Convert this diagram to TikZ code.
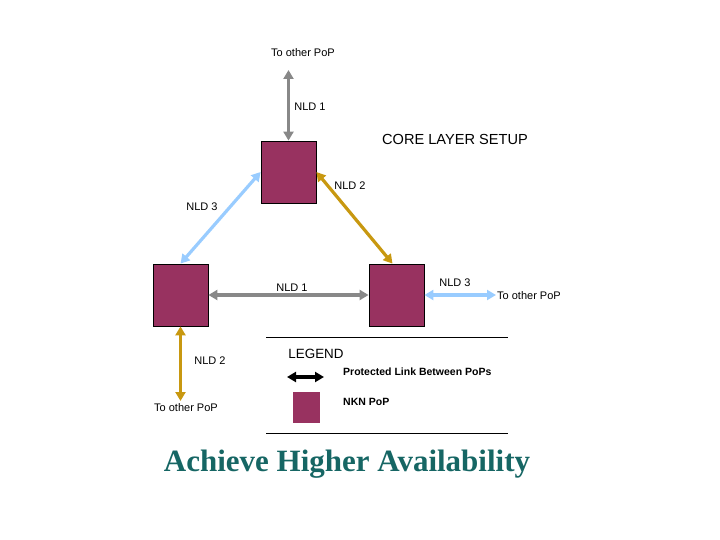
\documentclass[tikz,border=0pt]{standalone}
\usepackage{fontspec}
\setmainfont{Liberation Serif}
\setsansfont{Liberation Sans}
\usetikzlibrary{arrows.meta,positioning}
\definecolor{popfill}{RGB}{152,50,96}
\definecolor{linkgrey}{RGB}{136,136,136}
\definecolor{linkblue}{RGB}{153,204,255}
\definecolor{linkgold}{RGB}{200,152,16}
\definecolor{titleteal}{RGB}{22,102,100}
\tikzset{
  pop/.style={draw=black,fill=popfill,minimum width=55,minimum height=62,
              inner sep=0pt,line width=0.8pt},
  link/.style={{Triangle[length=9,width=10]}-{Triangle[length=9,width=10]},
               line width=3.2pt},
  lbl/.style={font=\sffamily\fontsize{11}{13}\selectfont,inner sep=1pt},
  leglbl/.style={font=\sffamily\bfseries\fontsize{10.5}{12}\selectfont,
                 inner sep=1pt,anchor=west},
  rulel/.style={draw=black,line width=0.9pt},
}
\begin{document}
\begin{tikzpicture}[x=1pt,y=-1pt]
  \useasboundingbox (0,0) rectangle (720,540);
  % the three PoPs
  \node[pop] (popa) at (288.5,172) {};
  \node[pop] (popb) at (180.5,295) {};
  \node[pop] (popc) at (396.5,295) {};

  % free ends towards other PoPs
  \coordinate (upend)    at (288.5,70);
  \coordinate (rightend) at (496,295);
  \coordinate (downend)  at (180.5,401);

  \draw[link,linkgrey] (popa.north) -- (upend);
  \draw[link,linkblue] (popa.west) -- (popb.north);
  \draw[link,linkgold] (popa.east) -- ([xshift=-4]popc.north);
  \draw[link,linkgrey] (popb.east) -- (popc.west);
  \draw[link,linkblue] (popc.east) -- (rightend);
  \draw[link,linkgold] (popb.south) -- (downend);

  % link labels
  \node[lbl] (upto)    at (303,53)  {To other PoP};
  \node[lbl] (nldup)   at (310,107) {NLD 1};
  \node[lbl] (nldab)   at (202,207) {NLD 3};
  \node[lbl] (nldac)   at (350,186) {NLD 2};
  \node[lbl] (nldbc)   at (292,288) {NLD 1};
  \node[lbl] (nldright) at (455,283) {NLD 3};
  \node[lbl,anchor=west] (rightto) at (496,296) {To other PoP};
  \node[lbl] (nlddown) at (210,361) {NLD 2};
  \node[lbl] (downto)  at (186,408) {To other PoP};

  \node[font=\sffamily\fontsize{14.6}{16}\selectfont,inner sep=1pt]
    (coretitle) at (455,139) {CORE LAYER SETUP};

  % legend
  \coordinate (legtl) at (266,337);
  \coordinate (legtr) at (508,337);
  \coordinate (legbl) at (266,433);
  \coordinate (legbr) at (508,433);
  \draw[rulel] (legtl) -- (legtr);
  \draw[rulel] (legbl) -- (legbr);
  \node[font=\sffamily\fontsize{13.4}{15}\selectfont,inner sep=1pt]
    (legtitle) at (316,354) {LEGEND};
  \coordinate (legarra) at (287,377);
  \coordinate (legarrb) at (324,377);
  \draw[link,black] (legarra) -- (legarrb);
  \node[leglbl] (legprot) at (342,372) {Protected Link Between PoPs};
  \node[pop,minimum width=27,minimum height=31,draw=none] (legpop) at (306.5,407.5) {};
  \node[leglbl] (legnkn) at (342,402) {NKN PoP};

  \node[font=\bfseries\fontsize{31}{36}\selectfont,text=titleteal,inner sep=0pt]
    (caption) at (347,464) {Achieve Higher Availability};
\end{tikzpicture}
\end{document}
